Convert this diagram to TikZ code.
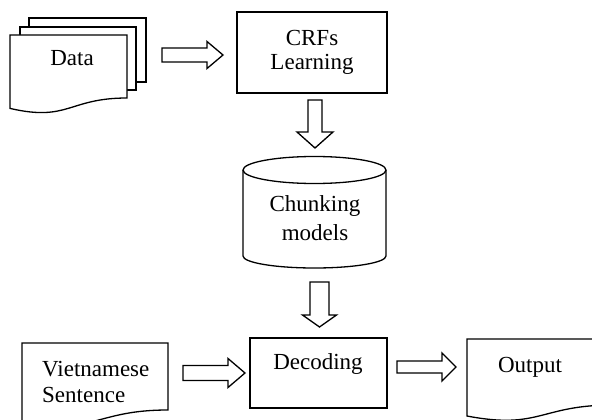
\documentclass[tikz,border=0pt]{standalone}
\usepackage{fontspec}
\setmainfont{Liberation Serif}
\usetikzlibrary{calc}

% block arrows: tail, tip, head length, half shaft width, half head width
\newcommand\harrow[5]{%
  \draw[barrow] ($(#1)+(0,-#4)$) -- ($(#2)+(-#3,-#4)$) -- ($(#2)+(-#3,-#5)$) -- (#2)
    -- ($(#2)+(-#3,#5)$) -- ($(#2)+(-#3,#4)$) -- ($(#1)+(0,#4)$) -- cycle;}
\newcommand\varrow[5]{%
  \draw[barrow] ($(#1)+(-#4,0)$) -- ($(#2)+(-#4,-#3)$) -- ($(#2)+(-#5,-#3)$) -- (#2)
    -- ($(#2)+(#5,-#3)$) -- ($(#2)+(#4,-#3)$) -- ($(#1)+(#4,0)$) -- cycle;}

\tikzset{
  lw/.style={line width=1.3pt, line join=miter},
  barrow/.style={lw, fill=white},
  txt/.style={inner sep=0pt, align=center},
}

\begin{document}
\begin{tikzpicture}[x=1pt, y=-1pt]
\useasboundingbox (0,0) rectangle (592,420);
\clip (0,0) rectangle (592,420);

% stacked data documents
\draw[lw, fill=white] (29,18) rectangle (146,82);
\draw[lw, fill=white] (20,27) rectangle (136,90);
\draw[lw, fill=white] (10,35) -- (127,35) -- (127,98)
  .. controls (68.5,98) and (68.5,122) .. (10,108.4) -- cycle;
\node[txt, font=\fontsize{23}{24}\selectfont] (data) at (72,58) {Data};

% learning step
\node[lw, draw, minimum width=150, minimum height=81, txt,
      font=\fontsize{23}{23.4}\selectfont] (crf) at (312,52.5) {CRFs\\Learning};

% model store
\draw[lw] (314.5,170) ellipse [x radius=71.5, y radius=13.5];
\draw[lw] (243,170) -- (243,256)
  arc[start angle=180, end angle=0, x radius=71.5, y radius=12] -- (386,170);
\node[txt, font=\fontsize{23}{29}\selectfont] (model) at (315,218) {Chunking\\models};

% input sentence document
\draw[lw, fill=white] (22,343) -- (168,343) -- (168,410)
  .. controls (95,410) and (95,435.5) .. (22,421) -- cycle;
\node[inner sep=0pt, align=left, anchor=west, font=\fontsize{23}{26.7}\selectfont]
  (viet) at (42,382) {Vietnamese\\Sentence};

% decoding step
\node[lw, draw, minimum width=137, minimum height=70] (dec) at (318.5,373) {};
\node[txt, font=\fontsize{23}{24}\selectfont] (dect) at (318,364) {Decoding};

% output document
\draw[lw, fill=white] (467,339) -- (613,339) -- (613,405)
  .. controls (540,405) and (540,430) .. (467,416) -- cycle;
\node[txt, font=\fontsize{23}{24}\selectfont] (out) at (530,367) {Output};

% arrow end points
\coordinate (a1s) at (162,55);    \coordinate (a1e) at (223,55);
\coordinate (a2s) at (315,100);   \coordinate (a2e) at (315,148);
\coordinate (a3s) at (319.5,282); \coordinate (a3e) at (319.5,327);
\coordinate (a4s) at (183,373);   \coordinate (a4e) at (245,373);
\coordinate (a5s) at (397,367);   \coordinate (a5e) at (456,367);

\harrow{a1s}{a1e}{16}{7}{13.5}
\varrow{a2s}{a2e}{16}{7}{18}
\varrow{a3s}{a3e}{12}{9.5}{17}
\harrow{a4s}{a4e}{17}{7.5}{14.5}
\harrow{a5s}{a5e}{14}{6}{14}
\end{tikzpicture}
\end{document}
